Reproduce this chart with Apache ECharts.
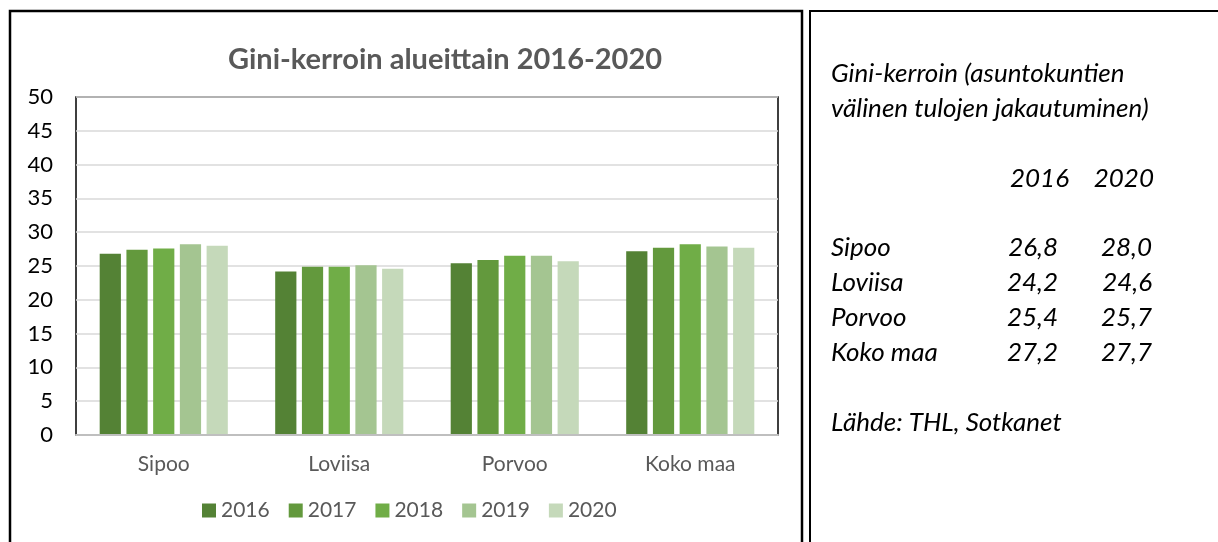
<!DOCTYPE html>
<html>
<head>
<meta charset="utf-8">
<script src="https://cdn.jsdelivr.net/npm/echarts@6/dist/echarts.min.js"></script>
<style>
html,body{margin:0;padding:0;background:#fff;}
#c{width:1218px;height:542px;}
</style>
</head>
<body>
<div id="c"></div>
<script>
const categories = ['Sipoo', 'Loviisa', 'Porvoo', 'Koko maa'];
const years = ['2016', '2017', '2018', '2019', '2020'];
const v2016 = [26.8, 24.2, 25.4, 27.2];
const v2017 = [27.4, 24.9, 25.9, 27.7];
const v2018 = [27.6, 24.9, 26.5, 28.2];
const v2019 = [28.2, 25.1, 26.5, 27.9];
const v2020 = [28.0, 24.6, 25.7, 27.7];
const colors = ['#548235', '#63993D', '#70AD47', '#A4C591', '#C5D9BA'];
const titleText = 'Gini-kerroin alueittain 2016-2020';
const sideTitle = ['Gini-kerroin (asuntokuntien', 'välinen tulojen jakautuminen)'];
const sourceText = 'Lähde: THL, Sotkanet';

const seriesValues = [v2016, v2017, v2018, v2019, v2020];
const FONT = 'Lato, "Open Sans", sans-serif';
const chart = echarts.init(document.getElementById('c'), null, {renderer: 'canvas'});

const fmt = v => v.toFixed(1).replace('.', ',');
const italic = {fontFamily: FONT, fontStyle: 'italic', fontSize: 26, fill: '#000'};
const mid = (text, x, y, align) => ({type: 'text', x: x, y: y, style: Object.assign({text: text, textAlign: align, textVerticalAlign: 'middle'}, italic)});
const graphics = [
  {type: 'rect', shape: {x: 10, y: 11, width: 792, height: 560}, style: {fill: 'none', stroke: '#000', lineWidth: 2.5}, z: 0, silent: true},
  {type: 'rect', shape: {x: 810, y: 11, width: 430, height: 560}, style: {fill: 'none', stroke: '#000', lineWidth: 2}, z: 0, silent: true},
  mid(sideTitle[0], 831, 74, 'left'),
  mid(sideTitle[1], 831, 109, 'left'),
  mid(years[0], 1069, 179, 'right'),
  mid(years[4], 1154, 179, 'right'),
  mid(sourceText, 831, 423, 'left')
];
categories.forEach((c, i) => {
  const y = 248 + i * 35;
  graphics.push(mid(c, 831, y, 'left'));
  graphics.push(mid(fmt(v2016[i]), 1058, y, 'right'));
  graphics.push(mid(fmt(v2020[i]), 1152, y, 'right'));
});

chart.setOption({
  animation: false,
  textStyle: {fontFamily: FONT},
  title: {
    text: titleText,
    left: 440, top: 40, textAlign: 'center',
    textStyle: {fontFamily: FONT, fontWeight: 'bold', fontSize: 29, color: '#595959'}
  },
  legend: {
    left: 202, top: 500, padding: 0,
    itemWidth: 14, itemHeight: 14, itemGap: 19,
    icon: 'rect',
    textStyle: {fontFamily: FONT, fontSize: 21, color: '#595959', padding: [0, 0, 0, 0]},
    data: years
  },
  grid: {
    left: 76, right: 440, top: 97, bottom: 107,
    show: true, borderColor: '#000', borderWidth: 1.5, containLabel: false
  },
  xAxis: {
    type: 'category',
    data: categories,
    axisLine: {show: true, lineStyle: {color: '#BFBFBF', width: 2}},
    axisTick: {show: false},
    axisLabel: {fontFamily: FONT, fontSize: 21, color: '#595959', margin: 19},
    z: 10
  },
  yAxis: {
    type: 'value',
    min: 0, max: 50, interval: 5,
    axisLine: {show: false},
    axisTick: {show: false},
    axisLabel: {fontFamily: FONT, fontSize: 22, color: '#000', margin: 23},
    splitLine: {lineStyle: {color: '#D9D9D9', width: 1.5}}
  },
  series: years.map((y, i) => ({
    name: y,
    type: 'bar',
    data: seriesValues[i],
    barGap: '26%',
    barCategoryGap: '27%',
    itemStyle: {color: colors[i]}
  })),
  graphic: graphics
});
</script>
</body>
</html>
